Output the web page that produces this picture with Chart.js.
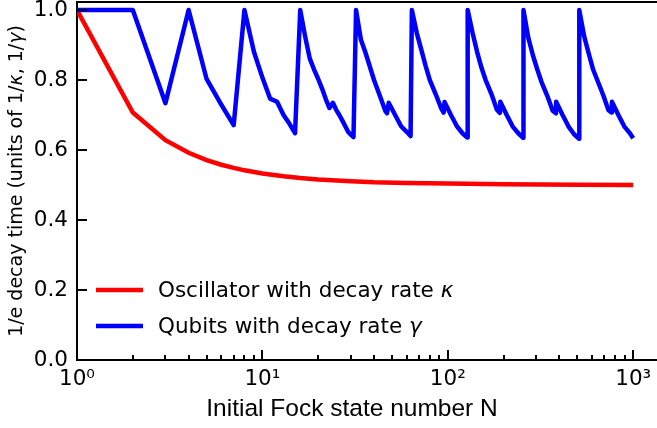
<!DOCTYPE html>
<html lang="en">
<head>
<meta charset="UTF-8">
<title>1/e decay time vs initial Fock state</title>
<script src="https://cdn.jsdelivr.net/npm/chart.js@4.4.0/dist/chart.umd.min.js"></script>
<style>
  html, body { margin: 0; padding: 0; background: #fff; overflow: hidden; }
  #wrap { width: 690px; height: 428px; }
</style>
</head>
<body>
<div id="wrap"><canvas id="decayChart" width="690" height="428"></canvas></div>
<script>
// oscillator: 1/e decay time against initial Fock state N
const oscN   = [1, 2, 3, 4, 5, 6, 7, 8, 10, 13, 16, 20, 30, 40, 60, 100, 200, 500, 1000];
const oscTau = [1.0, 0.707, 0.628, 0.592, 0.571, 0.558, 0.549, 0.542, 0.533, 0.525, 0.520,
                0.516, 0.511, 0.508, 0.506, 0.504, 0.502, 0.501, 0.500];

// qubit register (binary encoding of N)
const qubitN = [
  1,
  2, 3,
  4, 5, 6, 7,
  8, 9, 10, 11, 12, 13, 14, 15,
  16, 17, 18, 19, 20, 21, 22, 23, 24, 25, 26, 27, 28, 29, 30, 31,
  32, 34, 36, 38, 40, 43, 46, 47, 48, 52, 56, 60, 63,
  64, 68, 72, 76, 80, 86, 92, 95, 96, 104, 112, 120, 127,
  128, 136, 144, 152, 160, 172, 184, 191, 192, 208, 224, 240, 255,
  256, 272, 288, 304, 320, 344, 368, 383, 384, 416, 448, 480, 511,
  512, 544, 576, 608, 640, 688, 736, 767, 768, 832, 896, 960, 1000
];
const qubitTau = [
  1.0,
  1.0, 0.734,
  1.0, 0.803, 0.730, 0.671,
  1.0, 0.881, 0.807, 0.747, 0.738, 0.700, 0.675, 0.648,
  1.0, 0.925, 0.862, 0.830, 0.803, 0.775, 0.745, 0.720, 0.735, 0.715, 0.700, 0.684, 0.668, 0.652, 0.644, 0.637,
  1.0, 0.915, 0.878, 0.838, 0.800, 0.755, 0.712, 0.705, 0.735, 0.700, 0.668, 0.652, 0.640,
  1.0, 0.935, 0.886, 0.840, 0.800, 0.760, 0.720, 0.707, 0.737, 0.700, 0.668, 0.648, 0.636,
  1.0, 0.935, 0.880, 0.835, 0.800, 0.760, 0.715, 0.706, 0.738, 0.700, 0.667, 0.648, 0.635,
  1.0, 0.920, 0.870, 0.830, 0.795, 0.755, 0.712, 0.705, 0.738, 0.700, 0.667, 0.645, 0.632,
  1.0, 0.925, 0.875, 0.830, 0.800, 0.758, 0.714, 0.707, 0.738, 0.700, 0.667, 0.648, 0.634
];

const xDecades = [1, 10, 100, 1000];
const xDecadeLabels = ['10\u2070', '10\u00b9', '10\u00b2', '10\u00b3'];
const yTicks = [0, 0.2, 0.4, 0.6, 0.8, 1.0];

const oscLabel = [['Oscillator with decay rate ', false], ['\u03ba', true]];
const qubitLabel = [['Qubits with decay rate ', false], ['\u03b3', true]];
const yTitle = [['1/e decay time (units of 1/', false], ['\u03ba', true], [', 1/', false], ['\u03b3', true], [')', false]];
const xTitle = 'Initial Fock state number N';

// log axis tick positions: 1..9 x 10^k
const xTickValues = [];
xDecades.forEach(d => { for (let m = 1; m <= 9; m++) xTickValues.push(m * d); });

function toPoints(xs, ys) {
  return xs.map((v, i) => ({ x: v, y: ys[i] }));
}

// draws text made of plain/italic pieces, starting at x
function drawPieces(ctx, pieces, x, y, size) {
  let cx = x;
  pieces.forEach(([t, it]) => {
    ctx.font = (it ? 'italic ' : '') + size + 'px "DejaVu Sans"';
    ctx.fillText(t, cx, y);
    cx += ctx.measureText(t).width;
  });
}
function piecesWidth(ctx, pieces, size) {
  let w = 0;
  pieces.forEach(([t, it]) => {
    ctx.font = (it ? 'italic ' : '') + size + 'px "DejaVu Sans"';
    w += ctx.measureText(t).width;
  });
  return w;
}

// fixed axis boxes, no extra room reserved for overhanging labels
function fixBox(s, size) {
  if (s.isHorizontal()) s.height = size; else s.width = size;
  s.paddingTop = 0;
  s.paddingBottom = 0;
  s.paddingLeft = 0;
  s.paddingRight = 0;
}

const framePlugin = {
  id: 'frame',
  afterDraw(chart) {
    const { ctx, chartArea: a, scales: { x, y } } = chart;
    ctx.save();
    ctx.strokeStyle = '#000';
    ctx.lineWidth = 2;

    // top spine
    ctx.beginPath();
    ctx.moveTo(a.left - 1, a.top);
    ctx.lineTo(a.right, a.top);
    ctx.stroke();

    // inward tick marks
    yTicks.forEach(v => {
      const py = Math.round(y.getPixelForValue(v));
      ctx.beginPath();
      ctx.moveTo(a.left, py);
      ctx.lineTo(a.left + 10, py);
      ctx.stroke();
    });
    xTickValues.forEach(v => {
      const px = Math.round(x.getPixelForValue(v));
      const len = xDecades.includes(v) ? 10 : 5;
      ctx.beginPath();
      ctx.moveTo(px, a.bottom);
      ctx.lineTo(px, a.bottom - len);
      ctx.stroke();
    });

    // legend
    const ds = chart.data.datasets;
    const rows = [[ds[0], oscLabel, 290], [ds[1], qubitLabel, 326]];
    ctx.textBaseline = 'middle';
    ctx.textAlign = 'left';
    ctx.fillStyle = '#000';
    rows.forEach(([d, pieces, ly]) => {
      ctx.strokeStyle = d.borderColor;
      ctx.lineWidth = 4.5;
      ctx.beginPath();
      ctx.moveTo(a.left + 19, ly);
      ctx.lineTo(a.left + 66, ly);
      ctx.stroke();
      drawPieces(ctx, pieces, a.left + 81, ly + 1, 21.5);
    });

    // y axis title
    ctx.save();
    ctx.translate(17, (a.top + a.bottom) / 2);
    ctx.rotate(-Math.PI / 2);
    const w = piecesWidth(ctx, yTitle, 19);
    drawPieces(ctx, yTitle, -w / 2, 0, 19);
    ctx.restore();

    // x axis title
    ctx.font = '24.5px "Liberation Sans"';
    ctx.textAlign = 'center';
    ctx.textBaseline = 'alphabetic';
    ctx.fillText(xTitle, a.left + 275, 416);

    ctx.restore();
  }
};

const ctx = document.getElementById('decayChart').getContext('2d');
const chart = new Chart(ctx, {
  type: 'line',
  data: {
    datasets: [
      {
        label: 'Oscillator with decay rate \u03ba',
        data: toPoints(oscN, oscTau),
        borderColor: '#ff0000',
        borderWidth: 4.5,
        pointRadius: 0,
        tension: 0,
        fill: false,
        order: 1
      },
      {
        label: 'Qubits with decay rate \u03b3',
        data: toPoints(qubitN, qubitTau),
        borderColor: '#0000ff',
        borderWidth: 4.5,
        pointRadius: 0,
        tension: 0,
        fill: false,
        borderJoinStyle: 'round',
        order: 0
      }
    ]
  },
  options: {
    responsive: false,
    animation: false,
    events: [],
    layout: { padding: { left: 0, right: 1, top: 2, bottom: 0 } },
    plugins: { legend: { display: false }, tooltip: { enabled: false } },
    scales: {
      x: {
        type: 'logarithmic',
        min: 1,
        max: 2000,
        afterFit: s => fixBox(s, 68),
        afterBuildTicks: s => { s.ticks = xDecades.map(v => ({ value: v })); },
        grid: { display: false, drawTicks: false },
        border: { display: true, color: '#000', width: 2 },
        ticks: {
          autoSkip: false,
          maxRotation: 0,
          padding: 7,
          color: '#000',
          font: { family: 'DejaVu Sans', size: 21.5 },
          callback: v => {
            const i = xDecades.indexOf(v);
            return i >= 0 ? xDecadeLabels[i] : '';
          }
        }
      },
      y: {
        min: 0,
        max: 1.023,
        afterFit: s => fixBox(s, 77),
        afterBuildTicks: s => { s.ticks = yTicks.map(v => ({ value: v })); },
        grid: { display: false, drawTicks: false },
        border: { display: true, color: '#000', width: 2 },
        ticks: {
          padding: 9,
          color: '#000',
          font: { family: 'DejaVu Sans', size: 21.5 },
          callback: v => v.toFixed(1)
        }
      }
    }
  },
  plugins: [framePlugin]
});
</script>
</body>
</html>
